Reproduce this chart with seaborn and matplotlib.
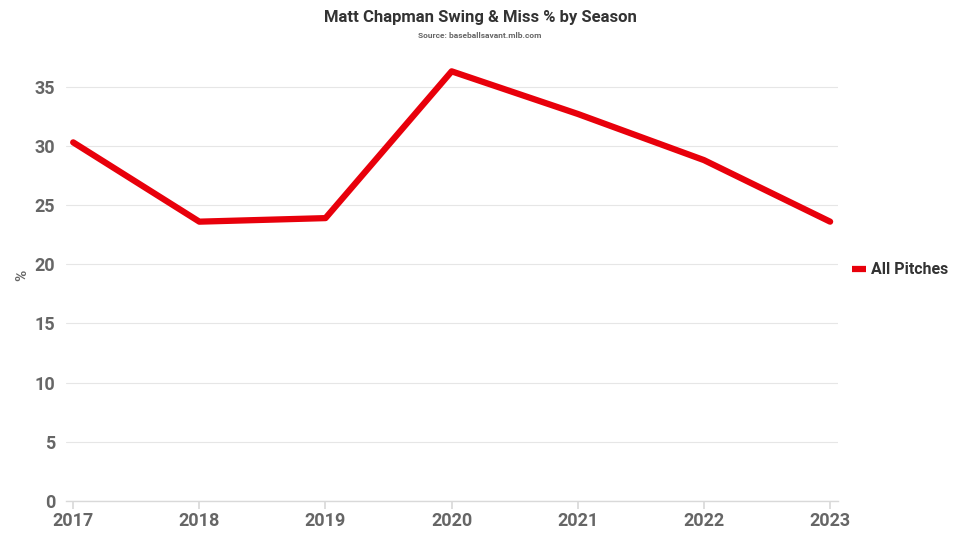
import matplotlib
matplotlib.use("Agg")
import matplotlib.pyplot as plt
import seaborn as sns
import pandas as pd
from matplotlib.lines import Line2D

seasons = [2017, 2018, 2019, 2020, 2021, 2022, 2023]
swing_miss = [30.3, 23.6, 23.9, 36.3, 32.7, 28.8, 23.6]
series_name = "All Pitches"
yticks = [0, 5, 10, 15, 20, 25, 30, 35]

df = pd.DataFrame({"Season": seasons, "%": swing_miss, "Series": series_name})

sns.set_theme(style="white")
plt.rcParams["font.family"] = ["Roboto", "DejaVu Sans"]

fig = plt.figure(figsize=(9.6, 5.4), dpi=100)
ax = fig.add_axes([0.069, 0.0722, 0.804, 0.822])

sns.lineplot(data=df, x="Season", y="%", hue="Series", palette=["#e8000b"],
             linewidth=4.5, ax=ax, legend=False)

ax.set_xlim(2016.945, 2023.063)
ax.set_ylim(0, 37.5)
ax.set_yticks(yticks)
ax.set_xticks(seasons)
ax.set_xticklabels([str(s) for s in seasons])
ax.grid(axis="y", color="#e6e6e6", linewidth=0.8)
ax.set_axisbelow(True)
for s in ["top", "right", "left"]:
    ax.spines[s].set_visible(False)
ax.spines["bottom"].set_color("#d9d9d9")
ax.spines["bottom"].set_linewidth(1)
ax.tick_params(axis="x", bottom=True, length=6, color="#d9d9d9", pad=2,
               labelsize=13, labelcolor="#666666")
ax.tick_params(axis="y", left=False, length=0, pad=8, labelsize=13, labelcolor="#666666")
for lab in ax.get_xticklabels() + ax.get_yticklabels():
    lab.set_fontweight("bold")
ax.set_xlabel("")
ax.set_ylabel("")
fig.text(0.023, 0.49, "%", rotation=90, ha="center", va="center",
         color="#666666", fontsize=11, fontweight="bold")

fig.text(0.5, 0.968, "Matt Chapman Swing & Miss % by Season", ha="center", va="center",
         fontsize=12, fontweight="bold", color="#333333")
fig.text(0.5, 0.934, "Source: baseballsavant.mlb.com", ha="center", va="center",
         fontsize=6, fontweight="bold", color="#666666")

handle = Line2D([], [], color="#e8000b", linewidth=4.5, solid_capstyle="butt")
leg = fig.legend([handle], [series_name], loc="center left", bbox_to_anchor=(0.887, 0.5),
                 frameon=False, handlelength=0.9, handletextpad=0.35, borderpad=0,
                 borderaxespad=0, prop={"weight": "bold", "size": 11.5})
for t in leg.get_texts():
    t.set_color("#333333")

fig.savefig("out.png", dpi=100)
